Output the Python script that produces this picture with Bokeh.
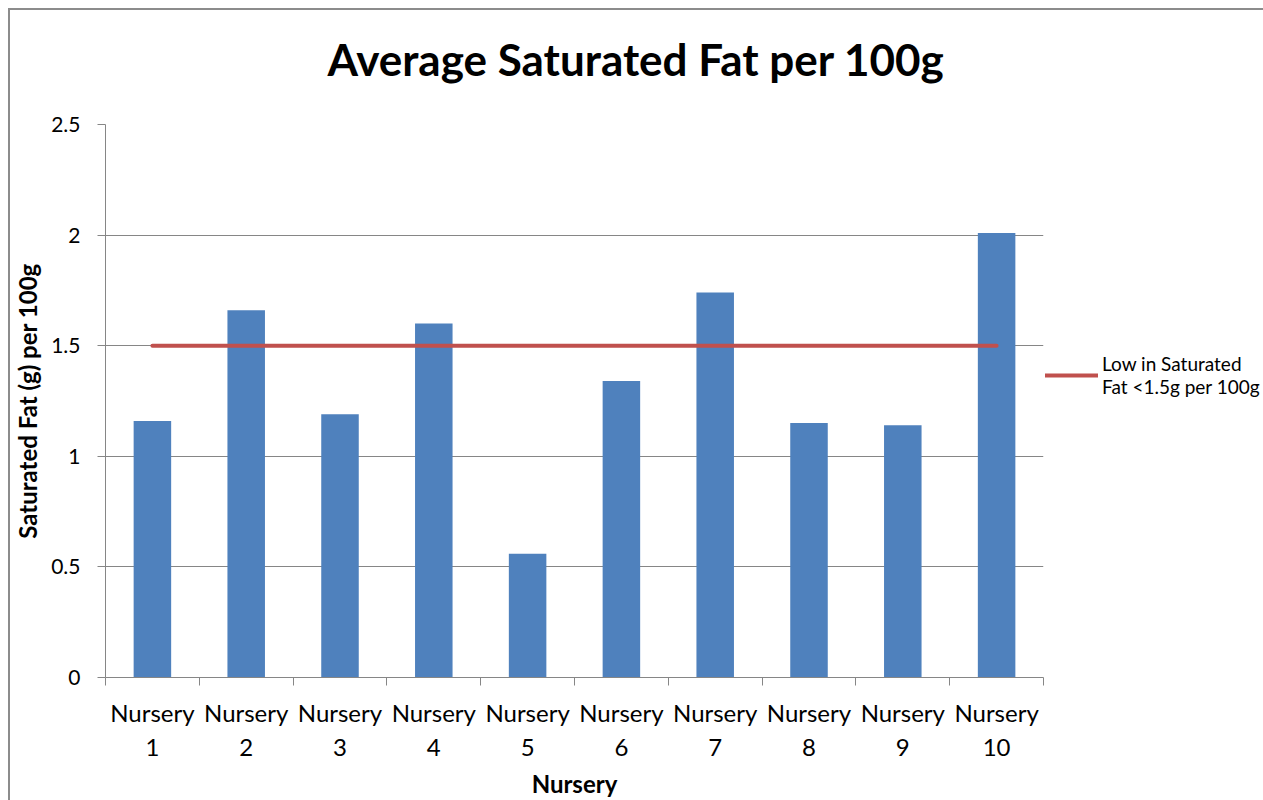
from bokeh.plotting import figure
from bokeh.models import FixedTicker, Legend, LegendItem, ColumnDataSource, Title
from bokeh.embed import file_html
from bokeh.resources import INLINE

# Data
nurseries = ["Nursery 1", "Nursery 2", "Nursery 3", "Nursery 4", "Nursery 5",
             "Nursery 6", "Nursery 7", "Nursery 8", "Nursery 9", "Nursery 10"]
sat_fat = [1.16, 1.66, 1.19, 1.60, 0.56, 1.34, 1.74, 1.15, 1.14, 2.01]
threshold = [1.5, 1.5, 1.5, 1.5, 1.5, 1.5, 1.5, 1.5, 1.5, 1.5]
threshold_label = "Low in Saturated\nFat <1.5g per 100g"
chart_title = "Average Saturated Fat per 100g"
y_ticks = [0, 0.5, 1, 1.5, 2, 2.5]
y_tick_labels = ["0", "0.5", "1", "1.5", "2", "2.5"]

positions = list(range(1, len(nurseries) + 1))
x_labels = {p: n.replace(" ", "\n") for p, n in zip(positions, nurseries)}

FONT = "Lato"
BAR = "#4F81BD"
RED = "#C0504D"
GRID = "#868686"

src = ColumnDataSource(dict(x=positions, fat=sat_fat, limit=threshold))

p = figure(frame_width=938, frame_height=553,
           x_range=(0.5, len(nurseries) + 0.5), y_range=(0, 2.5),
           output_backend="svg", toolbar_location=None, title_location=None,
           min_border_left=95, min_border_right=220,
           min_border_top=114, min_border_bottom=123)
p.background_fill_color = "white"
p.border_fill_color = "white"
p.outline_line_color = None

# a thin spacer between the plot area and the heading lifts the heading up
spacer = Title(text=" ", text_font_size="1px", standoff=18)
p.add_layout(spacer, "above")
heading = Title(text=chart_title, text_font=FONT, text_font_size="44px",
                text_font_style="bold", text_color="black",
                align="left", offset=222, standoff=38)
p.add_layout(heading, "above")

p.vbar(x="x", top="fat", width=0.4, source=src, fill_color=BAR, line_color=None)
r_line = p.line(x="x", y="limit", source=src, line_color=RED, line_width=4,
                line_cap="round")

# x axis: tick marks between categories, labels at centres
xa = p.xaxis[0]
xa.ticker = FixedTicker(ticks=positions,
                        minor_ticks=[v + 0.5 for v in range(0, len(nurseries) + 1)])
xa.major_label_overrides = x_labels
xa.major_tick_out = 0
xa.major_tick_in = 0
xa.minor_tick_out = 8
xa.minor_tick_in = 0
xa.minor_tick_line_color = GRID
xa.axis_line_color = GRID
xa.major_label_text_font = FONT
xa.major_label_text_font_size = "24px"
xa.major_label_text_color = "black"
xa.major_label_standoff = 12
xa.axis_label = "Nursery"
xa.axis_label_text_font = FONT
xa.axis_label_text_font_size = "24px"
xa.axis_label_text_font_style = "bold"
xa.axis_label_text_color = "black"
xa.axis_label_standoff = 5

ya = p.yaxis[0]
ya.ticker = FixedTicker(ticks=y_ticks)
ya.major_label_overrides = dict(zip(y_ticks, y_tick_labels))
ya.major_tick_out = 8
ya.major_tick_in = 0
ya.minor_tick_out = 0
ya.minor_tick_in = 0
ya.major_tick_line_color = GRID
ya.axis_line_color = GRID
ya.major_label_text_font = FONT
ya.major_label_text_font_size = "21px"
ya.major_label_text_color = "black"
ya.major_label_standoff = 17
ya.axis_label = "Saturated Fat (g) per 100g"
ya.axis_label_text_font = FONT
ya.axis_label_text_font_size = "24px"
ya.axis_label_text_font_style = "bold"
ya.axis_label_text_color = "black"
ya.axis_label_standoff = 6

p.xgrid.grid_line_color = None
p.ygrid.grid_line_color = GRID
p.ygrid.grid_line_width = 1

legend = Legend(items=[LegendItem(label=threshold_label, renderers=[r_line])],
                location=(2, 279), glyph_width=53, glyph_height=20,
                label_text_font=FONT, label_text_font_size="19px",
                label_text_color="black",
                label_standoff=4, border_line_color=None,
                background_fill_alpha=0, padding=0, margin=0)
p.add_layout(legend, "right")

p.styles = {"margin-left": "8px", "margin-top": "8px",
            "border-left": "2px solid #8c8c8c", "border-top": "2px solid #8c8c8c"}

open("out.html", "w").write(file_html(p, INLINE))
